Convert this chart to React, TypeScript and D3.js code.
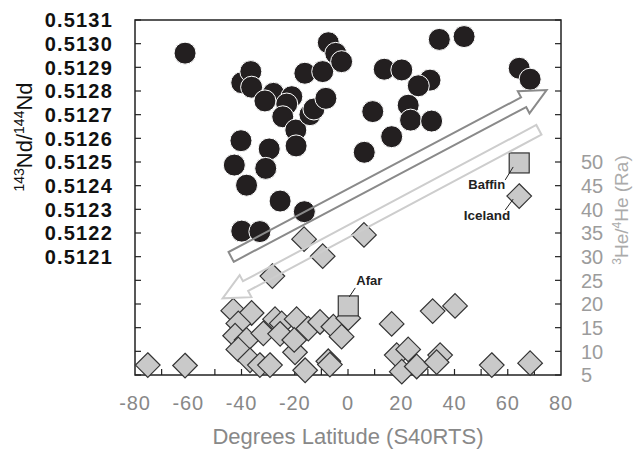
import React from 'react';
import * as d3 from 'd3';

// [latitude, 143Nd/144Nd]
const ndPoints: [number, number][] = [
  [-61.2, 0.51296], [-39.9, 0.512835], [-36.5, 0.512882], [-36.2, 0.512816],
  [-28.0, 0.51279], [-31.2, 0.512758], [-21.1, 0.512776], [-23.0, 0.512745],
  [-24.5, 0.512691], [-19.6, 0.512635], [-19.5, 0.512568], [-14.3, 0.5127],
  [-12.8, 0.512724], [-8.3, 0.512769], [-16.2, 0.512875], [-9.5, 0.512882],
  [-7.4, 0.513004], [-4.6, 0.512959], [-2.4, 0.512924], [-40.2, 0.51259],
  [-29.6, 0.512555], [-42.7, 0.512487], [-30.9, 0.512473], [-38.1, 0.512402],
  [-25.5, 0.512335], [-16.4, 0.51229], [-39.9, 0.512208], [-33.1, 0.512206],
  [9.3, 0.512713], [6.1, 0.512541], [13.6, 0.512892], [16.4, 0.512607],
  [20.2, 0.512889], [30.8, 0.512846], [26.4, 0.512822], [22.6, 0.51274],
  [23.5, 0.512677], [31.4, 0.512673], [34.3, 0.513018], [43.6, 0.51303],
  [64.3, 0.512896], [68.4, 0.51285],
];

// [latitude, 3He/4He (Ra)]
const hePoints: [number, number][] = [
  [-75.2, 7.1], [-61.2, 7.0],
  [-16.5, 33.7], [-9.5, 30.1], [-28.4, 25.9], [6.0, 34.6],
  [-43.1, 18.6], [-36.2, 18.1], [-41.2, 15.9], [-42.4, 13.3], [-38.1, 12.4],
  [-41.2, 10.4], [-36.8, 8.1], [-33.1, 7.1], [-29.3, 7.1], [-31.8, 13.8],
  [-27.4, 16.8], [-24.9, 15.9], [-19.3, 16.8], [-25.5, 13.7], [-19.9, 9.8],
  [-20.2, 12.4], [-16.1, 6.0], [-14.9, 14.8], [-10.5, 16.2], [-5.5, 15.2],
  [-2.4, 13.1], [-7.4, 7.9], [-6.8, 7.2], [0.1, 17.0],
  [16.4, 15.8], [31.8, 18.5], [40.2, 19.6], [18.3, 9.2], [22.6, 10.4],
  [20.2, 5.7], [25.8, 6.8], [34.6, 9.2], [33.3, 7.7], [54.0, 7.1], [68.4, 7.5],
];

const icelandPoint: [number, number] = [64.3, 42.8];
const afarPoint: [number, number] = [0.1, 19.6];
const baffinPoint: [number, number] = [64.3, 49.8];

// trend arrows: [tail, tip]
const ndArrow: [number, number][] = [[-43.9, 0.512099], [74.6, 0.512804]];
const heArrow: [number, number][] = [[71.7, 56.8], [-47.1, 21.2]];

const xTicks = d3.range(-80, 81, 20);
const xMinorTicks = d3.range(-70, 71, 10);
const ndTicks = d3.range(0, 16).map((i) => +(0.5116 + i * 0.0001).toFixed(4));
const ndLabels = ndTicks.filter((v) => v >= 0.5121);
const heTicks = d3.range(5, 81, 5);
const heLabels = heTicks.filter((v) => v <= 50);

const font = '"Liberation Sans", Arial, sans-serif';

function arrowPath(p0: [number, number], p1: [number, number]) {
  const w = 5.5, h = 12.5, L = 26;
  const dx = p1[0] - p0[0], dy = p1[1] - p0[1];
  const len = Math.hypot(dx, dy);
  const ux = dx / len, uy = dy / len;
  const nx = -uy, ny = ux;
  const bx = p1[0] - ux * L, by = p1[1] - uy * L;
  const pts = [
    [p0[0] + nx * w, p0[1] + ny * w],
    [bx + nx * w, by + ny * w],
    [bx + nx * h, by + ny * h],
    [p1[0], p1[1]],
    [bx - nx * h, by - ny * h],
    [bx - nx * w, by - ny * w],
    [p0[0] - nx * w, p0[1] - ny * w],
  ];
  return 'M' + pts.map((p) => p.join(',')).join('L') + 'Z';
}

export default function App() {
  const left = 135, right = 561, top = 20, bottom = 375;
  const x = d3.scaleLinear().domain([-80, 80]).range([left, right]);
  const yNd = d3.scaleLinear().domain([0.5116, 0.5131]).range([bottom, top]);
  const yHe = d3.scaleLinear().domain([5, 80]).range([bottom, top]);

  const diamond = (cx: number, cy: number, r = 12.3) =>
    `M${cx},${cy - r}L${cx + r},${cy}L${cx},${cy + r}L${cx - r},${cy}Z`;

  const af = [x(afarPoint[0]), yHe(afarPoint[1])];
  const bf = [x(baffinPoint[0]), yHe(baffinPoint[1])];
  const ic = [x(icelandPoint[0]), yHe(icelandPoint[1])];

  return (
    <svg width={641} height={450} style={{ position: 'absolute', left: 0, top: 0, background: '#fff' }} fontFamily={font}>
      {/* frame */}
      <rect x={left} y={top} width={right - left} height={bottom - top} fill="none" stroke="#222" strokeWidth={1.5} />

      {/* ticks */}
      {ndTicks.map((v) => (
        <line key={'l' + v} x1={left} x2={left + 6} y1={yNd(v)} y2={yNd(v)} stroke="#222" strokeWidth={1.2} />
      ))}
      {heTicks.map((v) => (
        <line key={'r' + v} x1={right - 6} x2={right} y1={yHe(v)} y2={yHe(v)} stroke="#222" strokeWidth={1.2} />
      ))}
      {xMinorTicks.map((v) => (
        <line key={'b' + v} x1={x(v)} x2={x(v)} y1={bottom} y2={bottom - 6} stroke="#222" strokeWidth={1.2} />
      ))}

      {/* He diamonds */}
      {hePoints.map((d, i) => (
        <path key={'d' + i} d={diamond(x(d[0]), yHe(d[1]))} fill="#c9c9c9" stroke="#333" strokeWidth={1.2} />
      ))}
      <path d={diamond(ic[0], ic[1])} fill="#c9c9c9" stroke="#333" strokeWidth={1.2} />
      <rect x={af[0] - 10} y={af[1] - 10} width={20} height={20} fill="#c9c9c9" stroke="#333" strokeWidth={1.2} />
      <rect x={bf[0] - 10} y={bf[1] - 10} width={20} height={20} fill="#c9c9c9" stroke="#333" strokeWidth={1.2} />

      {/* Nd circles */}
      {ndPoints.map((d, i) => (
        <circle key={'c' + i} cx={x(d[0])} cy={yNd(d[1])} r={11} fill="#231f20" stroke="#fff" strokeWidth={1} />
      ))}

      {/* trend arrows */}
      <path d={arrowPath([x(ndArrow[0][0]), yNd(ndArrow[0][1])], [x(ndArrow[1][0]), yNd(ndArrow[1][1])])}
        fill="none" stroke="#8a8a8a" strokeWidth={2} strokeLinejoin="miter" />
      <path d={arrowPath([x(heArrow[0][0]), yHe(heArrow[0][1])], [x(heArrow[1][0]), yHe(heArrow[1][1])])}
        fill="none" stroke="#cdcdcd" strokeWidth={2} strokeLinejoin="miter" />

      {/* hotspot labels */}
      <line x1={bf[0] - 6} y1={bf[1] + 4} x2={bf[0] - 14} y2={bf[1] + 17} stroke="#222" strokeWidth={1} />
      <text x={bf[0] - 14} y={bf[1] + 26} textAnchor="end" fontSize={13} fontWeight="bold" fill="#222">Baffin</text>
      <line x1={ic[0] - 6} y1={ic[1] + 3} x2={ic[0] - 14} y2={ic[1] + 14} stroke="#222" strokeWidth={1} />
      <text x={ic[0] - 9} y={ic[1] + 24} textAnchor="end" fontSize={13.5} fontWeight="bold" fill="#222">Iceland</text>
      <line x1={af[0] + 7} y1={af[1] - 18} x2={af[0] + 1} y2={af[1] - 9} stroke="#222" strokeWidth={1} />
      <text x={af[0] + 8} y={af[1] - 21} fontSize={13} fontWeight="bold" fill="#222">Afar</text>

      {/* left tick labels */}
      {ndLabels.map((v) => (
        <text key={'ll' + v} x={113} y={yNd(v)} dy="0.36em" textAnchor="end" fontSize={20} fontWeight="bold"
          letterSpacing={1.2} fill="#111">{v.toFixed(4)}</text>
      ))}
      {/* right tick labels */}
      {heLabels.map((v) => (
        <text key={'rl' + v} x={581} y={yHe(v)} dy="0.36em" fontSize={20} fill="#9c9c9c">{v}</text>
      ))}
      {/* bottom tick labels */}
      {xTicks.map((v) => (
        <text key={'bl' + v} x={x(v)} y={410} textAnchor="middle" fontSize={20} letterSpacing={0.8} fill="#888">{v}</text>
      ))}

      {/* axis titles */}
      <text x={348} y={444} textAnchor="middle" fontSize={22} fill="#888">Degrees Latitude (S40RTS)</text>
      <text transform="translate(32,137) rotate(-90)" textAnchor="middle" fontSize={22} fill="#111">
        <tspan fontSize={14} dy={-8}>143</tspan>
        <tspan dy={8}>Nd/</tspan>
        <tspan fontSize={14} dy={-8}>144</tspan>
        <tspan dy={8}>Nd</tspan>
      </text>
      <text transform="translate(628,210) rotate(-90)" textAnchor="middle" fontSize={19} fill="#ababab">
        <tspan fontSize={12} dy={-7}>3</tspan>
        <tspan dy={7}>He/</tspan>
        <tspan fontSize={12} dy={-7}>4</tspan>
        <tspan dy={7}>He (Ra)</tspan>
      </text>
    </svg>
  );
}
